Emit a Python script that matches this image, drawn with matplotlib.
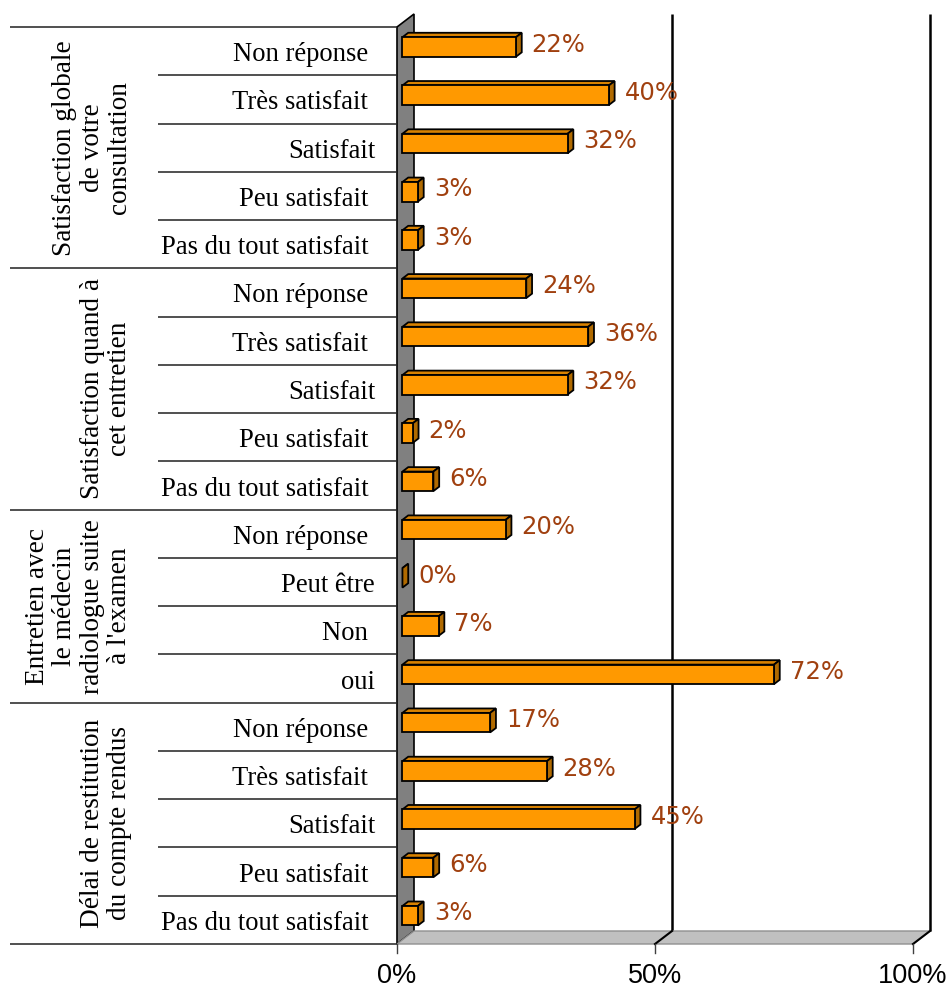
import matplotlib
matplotlib.use("Agg")
import matplotlib.pyplot as plt
from matplotlib.patches import Polygon

# ---------------- data ----------------
groups = [
    "Satisfaction globale\nde votre\nconsultation",
    "Satisfaction quand à\ncet entretien",
    "Entretien avec\nle médecin\nradiologue suite\nà l'examen",
    "Délai de restitution\ndu compte rendus",
]
group_sizes = [5, 5, 4, 5]
categories = [
    "Non réponse ", "Très satisfait ", "Satisfait", "Peu satisfait ", "Pas du tout satisfait ",
    "Non réponse ", "Très satisfait ", "Satisfait", "Peu satisfait ", "Pas du tout satisfait ",
    "Non réponse ", "Peut être", "Non ", "oui",
    "Non réponse ", "Très satisfait ", "Satisfait", "Peu satisfait ", "Pas du tout satisfait ",
]
values = [22, 40, 32, 3, 3,
          24, 36, 32, 2, 6,
          20, 0, 7, 72,
          17, 28, 45, 6, 3]
xticks = [0, 50, 100]
xtick_labels = ["0%", "50%", "100%"]

# ---------------- geometry ----------------
W, H, DPI = 948, 992, 100
fig = plt.figure(figsize=(W / DPI, H / DPI), dpi=DPI)
ax = fig.add_axes([0, 0, 1, 1])
ax.axis("off")

n = len(values)
px0, px100 = 397, 913          # pixel of 0% and 100% on the front plane
ptop, pbot = 27, 944           # pixel of top/bottom of front plane
sx = (px100 - px0) / 100.0     # px per %
sy = (pbot - ptop) / n         # px per row
ax.set_xlim(-px0 / sx, (W - px0) / sx)
ax.set_ylim((H - ptop) / sy, -ptop / sy)

DX = 17 / sx                   # depth vector (data units)
DY = -13 / sy
def px2x(p):
    return (p - px0) / sx

# wall (left side, gray)
wall = Polygon([(0, 0), (DX, DY), (DX, n + DY), (0, n)], closed=True,
               facecolor="#808080", edgecolor="black", lw=1.2, zorder=2)
ax.add_patch(wall)
# floor
floor = Polygon([(0, n), (DX, n + DY), (100 + DX, n + DY), (100, n)], closed=True,
                facecolor="#C0C0C0", edgecolor="#909090", lw=1.0, zorder=2)
ax.add_patch(floor)
# back grid lines
for v in xticks[1:]:
    ax.plot([v + DX, v + DX], [n + DY, DY], color="black", lw=1.8, zorder=1.5,
            solid_capstyle="butt")
    ax.plot([v, v + DX], [n, n + DY], color="black", lw=1.5, zorder=3)
# ticks + labels
for v, lab in zip(xticks, xtick_labels):
    ax.plot([v, v], [n, n + 9 / sy], color="#404040", lw=1.0, zorder=3)
    ax.text(v, n + 32 / sy, lab, ha="center", va="center",
            fontsize=19.5, family="Liberation Sans", color="black")

# ---------------- bars ----------------
d0, d1 = 0.32, 0.66
t = d1 - d0
h = 0.405
front_c = "#FF9900"
top_c = "#D98200"
side_c = "#B06A00"
for i, v in enumerate(values):
    c = i + 0.5
    x0 = d0 * DX
    x1 = v + d0 * DX
    yt = c - h / 2 + d0 * DY
    yb = c + h / 2 + d0 * DY
    top = Polygon([(x0, yt), (x1, yt), (x1 + t * DX, yt + t * DY), (x0 + t * DX, yt + t * DY)],
                  closed=True, facecolor=top_c, edgecolor="black", lw=1.3, zorder=4)
    side = Polygon([(x1, yt), (x1 + t * DX, yt + t * DY), (x1 + t * DX, yb + t * DY), (x1, yb)],
                   closed=True, facecolor=side_c, edgecolor="black", lw=1.3, zorder=4)
    front = Polygon([(x0, yt), (x1, yt), (x1, yb), (x0, yb)],
                    closed=True, facecolor=front_c, edgecolor="black", lw=1.3, zorder=5)
    ax.add_patch(top)
    ax.add_patch(side)
    if v > 0:
        ax.add_patch(front)
    ax.annotate(f"{v}%", xy=(x1 + t * DX, c + 0.5 * DY), xytext=(10 * 0.72, 0),
                textcoords="offset points", ha="left", va="center",
                fontsize=17.5, family="DejaVu Sans", color="#A0400F", zorder=6)

# ---------------- category table ----------------
line_c = "#202020"
bounds = [0]
for s in group_sizes:
    bounds.append(bounds[-1] + s)
for r in range(n + 1):
    xs = px2x(10) if r in bounds else px2x(158)
    ax.plot([xs, 0], [r, r], color=line_c, lw=1.1, zorder=3, solid_capstyle="butt")

for i, lab in enumerate(categories):
    ax.text(px2x(375), i + 0.5 + 3.5 / sy, lab, ha="right", va="center",
            fontsize=19.2, family="Liberation Serif", color="black")

for g, (name, s) in enumerate(zip(groups, group_sizes)):
    yc = (bounds[g] + bounds[g + 1]) / 2
    ax.text(px2x(132), yc, name, rotation=90, ha="right", va="center",
            multialignment="center", linespacing=1.12,
            fontsize=19.6, family="Liberation Serif", color="black")

fig.savefig("out.png", dpi=DPI)
